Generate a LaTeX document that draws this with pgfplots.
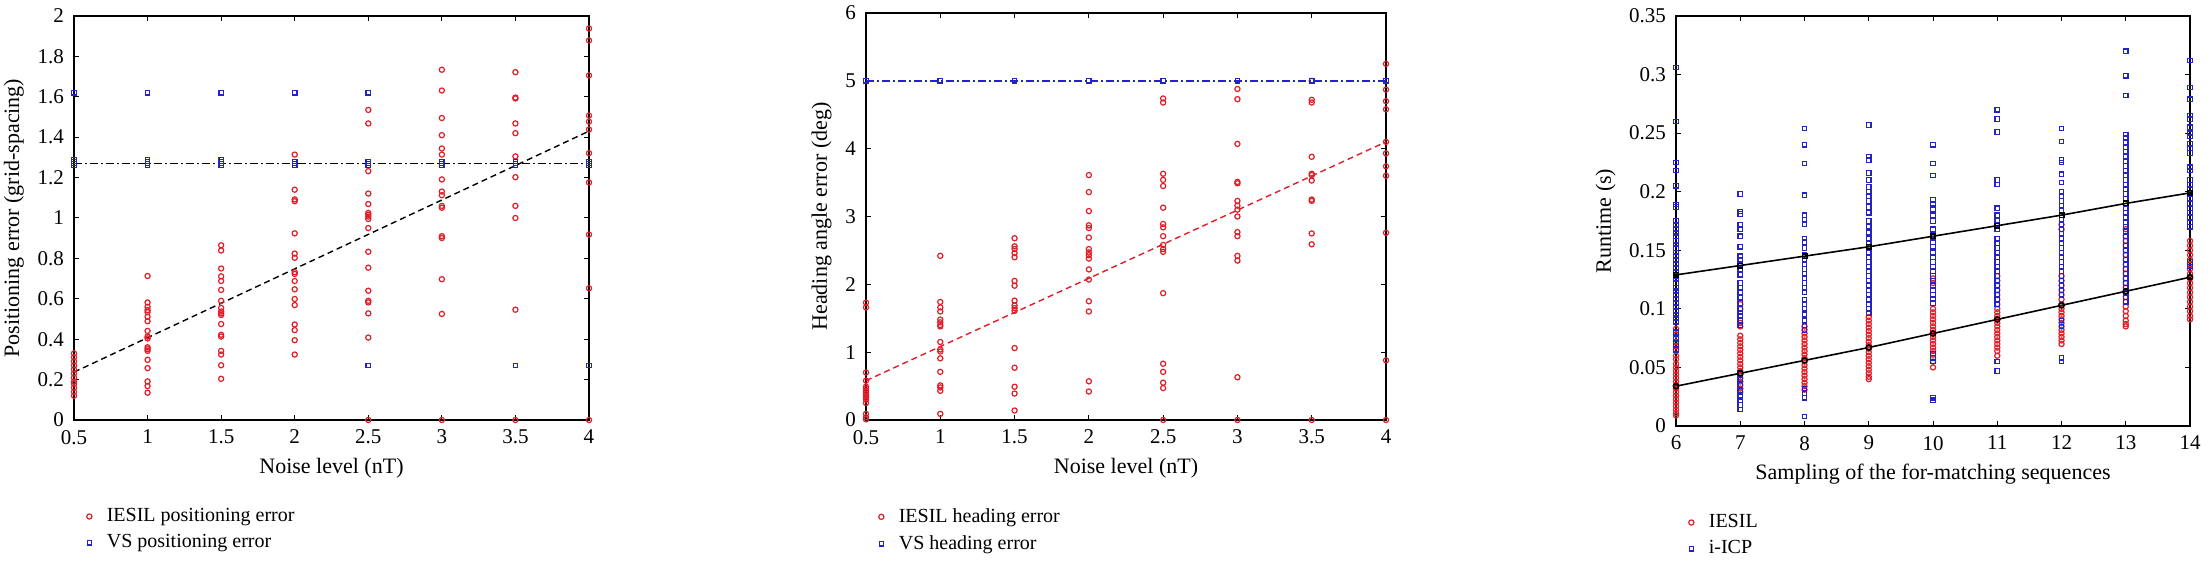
\documentclass[border=0pt]{standalone}
\usepackage{fontspec}
\setmainfont{Liberation Serif}
\usepackage{pgfplots}
\pgfplotsset{compat=1.18}
\definecolor{iesilred}{RGB}{225,30,40}
\definecolor{vsblue}{RGB}{35,35,200}
\pgfplotsset{
  panel/.style={
    scale only axis,
    enlargelimits=false,
    tick align=inside,
    major tick length=2.5pt,
    axis line style={line width=0.6pt},
    every tick/.style={black, line width=0.5pt},
    tick label style={font=\fontsize{10.5}{12}\selectfont},
    xticklabel style={yshift=-1.5pt},
    yticklabel style={xshift=-1.5pt},
    label style={font=\fontsize{11}{13}\selectfont},
    /pgf/number format/assume math mode=true,
    scaled ticks=false,
    legend style={draw=none, fill=none, font=\fontsize{10}{12}\selectfont,
      at={(0,0)}, anchor=north west, yshift=-40pt, xshift=0pt,
      row sep=1pt, cells={anchor=west}},
    legend image code/.code={\path (0cm,0cm) (0.38cm,0cm);
      \draw[mark repeat=2,mark phase=2,##1] plot coordinates {(0cm,0cm) (0.15cm,0cm) (0.38cm,0cm)};},
  },
  iesil/.style={only marks, mark=o, mark size=1.3pt, color=iesilred, mark options={line width=0.6pt}},
  vs/.style={only marks, mark=square, mark size=1.1pt, color=vsblue, mark options={line width=0.6pt}},
}
\begin{document}
\begin{tikzpicture}
\path[use as bounding box] (0,0) rectangle (1105.5pt,281pt);

% ---- panel 1: positioning error
\begin{axis}[panel, at={(37pt,71pt)}, anchor=south west,
  width=257.5pt, height=202pt,
  xmin=0.5, xmax=4, ymin=0, ymax=2,
  xtick={0.5,1,1.5,2,2.5,3,3.5,4},
  ytick={0,0.2,0.4,0.6,0.8,1,1.2,1.4,1.6,1.8,2},
  xlabel={Noise level (nT)}, ylabel={Positioning error (grid-spacing)}]
\addplot[iesil] coordinates {
(0.5,0.12) (0.5,0.14) (0.5,0.16) (0.5,0.18) (0.5,0.19) (0.5,0.21) (0.5,0.23) (0.5,0.25) (0.5,0.27) (0.5,0.29) (0.5,0.31) (0.5,0.33)
(1,0.713) (1,0.582) (1,0.560) (1,0.544) (1,0.534) (1,0.511) (1,0.489) (1,0.441) (1,0.413) (1,0.404) (1,0.360) (1,0.351) (1,0.342) (1,0.298) (1,0.257) (1,0.191) (1,0.168) (1,0.135)
(1.5,0.865) (1.5,0.839) (1.5,0.750) (1.5,0.711) (1.5,0.688) (1.5,0.644) (1.5,0.590) (1.5,0.555) (1.5,0.537) (1.5,0.528) (1.5,0.520) (1.5,0.475) (1.5,0.422) (1.5,0.413) (1.5,0.342) (1.5,0.324) (1.5,0.271) (1.5,0.204)
(2,1.314) (2,1.140) (2,1.092) (2,1.083) (2,0.924) (2,0.824) (2,0.803) (2,0.732) (2,0.723) (2,0.688) (2,0.647) (2,0.599) (2,0.569) (2,0.473) (2,0.445) (2,0.395) (2,0.324)
(2.5,1.535) (2.5,1.468) (2.5,1.232) (2.5,1.121) (2.5,1.069) (2.5,1.025) (2.5,1.016) (2.5,1.007) (2.5,0.995) (2.5,0.950) (2.5,0.833) (2.5,0.754) (2.5,0.640) (2.5,0.590) (2.5,0.582) (2.5,0.528) (2.5,0.408) (2.5,0)
(3,1.734) (3,1.631) (3,1.495) (3,1.410) (3,1.344) (3,1.314) (3,1.191) (3,1.131) (3,1.113) (3,1.060) (3,1.051) (3,0.910) (3,0.901) (3,0.697) (3,0.525) (3,0)
(3.5,1.722) (3.5,1.596) (3.5,1.592) (3.5,1.468) (3.5,1.420) (3.5,1.305) (3.5,1.202) (3.5,1.060) (3.5,1.000) (3.5,0.546) (3.5,0)
(4,1.938) (4,1.879) (4,1.706) (4,1.507) (4,1.477) (4,1.438) (4,1.321) (4,1.176) (4,0.918) (4,0.652) (4,0)
};
\addlegendentry{IESIL positioning error}
\addplot[vs] coordinates {
(0.5,1.62) (0.5,1.26) (0.5,1.27) (0.5,1.28) (0.5,1.29)
(1,1.62) (1,1.26) (1,1.27) (1,1.28) (1,1.29)
(1.5,1.62) (1.5,1.26) (1.5,1.27) (1.5,1.28) (1.5,1.29)
(2,1.62) (2,1.26) (2,1.27) (2,1.28)
(2.5,1.62) (2.5,1.26) (2.5,1.27) (2.5,1.28) (2.5,0.27)
(3,1.26) (3,1.27) (3,1.28)
(3.5,1.26) (3.5,1.27) (3.5,1.28) (3.5,0.27)
(4,1.26) (4,1.27) (4,1.28) (4,0.27)
};
\addlegendentry{VS positioning error}
\addplot[forget plot, black, line width=0.7pt, dash pattern=on 3pt off 2pt] coordinates {(0.5,0.237) (4,1.43)};
\addplot[forget plot, black, line width=0.7pt, dash pattern=on 4pt off 1.5pt on 1pt off 1.5pt] coordinates {(0.5,1.27) (4,1.27)};
\end{axis}

% ---- panel 2: heading angle error
\begin{axis}[panel, at={(433pt,71pt)}, anchor=south west,
  width=260pt, height=203.5pt,
  xmin=0.5, xmax=4, ymin=0, ymax=6,
  xtick={0.5,1,1.5,2,2.5,3,3.5,4},
  ytick={0,1,2,3,4,5,6},
  xlabel={Noise level (nT)}, ylabel={Heading angle error (deg)}]
\addplot[iesil] coordinates {
(0.5,1.73) (0.5,1.66) (0.5,0.70) (0.5,0.58) (0.5,0.49) (0.5,0.46) (0.5,0.43) (0.5,0.41) (0.5,0.38) (0.5,0.35) (0.5,0.33) (0.5,0.30) (0.5,0.25) (0.5,0.09) (0.5,0.04) (0.5,0.01)
(1,2.42) (1,1.74) (1,1.66) (1,1.60) (1,1.48) (1,1.44) (1,1.40) (1,1.38) (1,1.15) (1,1.04) (1,1.01) (1,0.91) (1,0.71) (1,0.51) (1,0.48) (1,0.43) (1,0.09)
(1.5,2.68) (1.5,2.56) (1.5,2.52) (1.5,2.46) (1.5,2.40) (1.5,2.05) (1.5,1.98) (1.5,1.76) (1.5,1.69) (1.5,1.65) (1.5,1.61) (1.5,1.06) (1.5,0.77) (1.5,0.49) (1.5,0.39) (1.5,0.14)
(2,3.61) (2,3.36) (2,3.08) (2,2.87) (2,2.83) (2,2.69) (2,2.52) (2,2.47) (2,2.43) (2,2.38) (2,2.22) (2,2.07) (2,1.75) (2,1.60) (2,0.57) (2,0.42)
(2.5,4.74) (2.5,4.68) (2.5,3.63) (2.5,3.54) (2.5,3.45) (2.5,3.13) (2.5,2.89) (2.5,2.84) (2.5,2.71) (2.5,2.58) (2.5,2.52) (2.5,2.48) (2.5,1.87) (2.5,0.83) (2.5,0.71) (2.5,0.55) (2.5,0.47) (2.5,0)
(3,4.88) (3,4.73) (3,4.07) (3,3.51) (3,3.49) (3,3.23) (3,3.16) (3,3.10) (3,3.00) (3,2.77) (3,2.71) (3,2.42) (3,2.35) (3,0.63) (3,0)
(3.5,5.0) (3.5,4.72) (3.5,4.68) (3.5,3.88) (3.5,3.63) (3.5,3.61) (3.5,3.53) (3.5,3.25) (3.5,3.23) (3.5,2.75) (3.5,2.59) (3.5,0)
(4,5.25) (4,4.87) (4,4.70) (4,4.58) (4,4.10) (4,3.93) (4,3.74) (4,3.60) (4,2.76) (4,0.88) (4,0)
};
\addlegendentry{IESIL heading error}
\addplot[vs] coordinates {(0.5,5) (1,5) (1.5,5) (2,5) (2.5,5) (3,5) (3.5,5) (4,5)};
\addlegendentry{VS heading error}
\addplot[forget plot, iesilred, line width=0.7pt, dash pattern=on 3pt off 2pt] coordinates {(0.5,0.58) (4,4.10)};
\addplot[forget plot, vsblue, line width=0.7pt, dash pattern=on 4pt off 1.5pt on 1pt off 1.5pt] coordinates {(0.5,5) (4,5)};
\end{axis}

% ---- panel 3: runtime
\begin{axis}[panel, at={(838pt,68pt)}, anchor=south west,
  width=257pt, height=205pt,
  xmin=6, xmax=14, ymin=0, ymax=0.35,
  xtick={6,7,8,9,10,11,12,13,14},
  ytick={0,0.05,0.1,0.15,0.2,0.25,0.3,0.35},
  yticklabel style={/pgf/number format/fixed, /pgf/number format/precision=2},
  xlabel={Sampling of the for-matching sequences}, ylabel={Runtime (s)}]
\addplot[iesil] coordinates {
(6,0.083) (6,0.078) (6,0.072) (6,0.068) (6,0.065) (6,0.060) (6,0.057) (6,0.053) (6,0.050) (6,0.047) (6,0.044) (6,0.041) (6,0.038) (6,0.035) (6,0.032) (6,0.029) (6,0.026) (6,0.023) (6,0.020) (6,0.017) (6,0.014) (6,0.011) (6,0.009)
(7,0.104) (7,0.100) (7,0.088) (7,0.085) (7,0.077) (7,0.074) (7,0.071) (7,0.068) (7,0.065) (7,0.062) (7,0.059) (7,0.056) (7,0.053) (7,0.050) (7,0.047) (7,0.044) (7,0.041) (7,0.038) (7,0.035) (7,0.032) (7,0.029)
(8,0.085) (8,0.082) (8,0.079) (8,0.076) (8,0.073) (8,0.070) (8,0.067) (8,0.064) (8,0.061) (8,0.058) (8,0.055) (8,0.052) (8,0.049) (8,0.046) (8,0.043) (8,0.040) (8,0.037) (8,0.034) (8,0.031)
(9,0.093) (9,0.090) (9,0.087) (9,0.084) (9,0.081) (9,0.078) (9,0.075) (9,0.072) (9,0.069) (9,0.066) (9,0.063) (9,0.060) (9,0.057) (9,0.054) (9,0.051) (9,0.048) (9,0.045) (9,0.042) (9,0.040)
(10,0.126) (10,0.122) (10,0.100) (10,0.097) (10,0.094) (10,0.091) (10,0.088) (10,0.085) (10,0.082) (10,0.079) (10,0.076) (10,0.073) (10,0.070) (10,0.067) (10,0.064) (10,0.061) (10,0.058) (10,0.055) (10,0.050)
(11,0.128) (11,0.124) (11,0.120) (11,0.116) (11,0.112) (11,0.108) (11,0.104) (11,0.100) (11,0.097) (11,0.094) (11,0.091) (11,0.088) (11,0.085) (11,0.082) (11,0.079) (11,0.076) (11,0.073) (11,0.070) (11,0.067) (11,0.064) (11,0.060)
(12,0.172) (12,0.168) (12,0.128) (12,0.124) (12,0.120) (12,0.116) (12,0.112) (12,0.108) (12,0.104) (12,0.100) (12,0.097) (12,0.094) (12,0.091) (12,0.088) (12,0.085) (12,0.082) (12,0.079) (12,0.076) (12,0.073) (12,0.070)
(13,0.168) (13,0.162) (13,0.158) (13,0.154) (13,0.150) (13,0.146) (13,0.142) (13,0.138) (13,0.134) (13,0.130) (13,0.126) (13,0.122) (13,0.118) (13,0.114) (13,0.110) (13,0.106) (13,0.102) (13,0.098) (13,0.094) (13,0.090) (13,0.087) (13,0.085)
(14,0.158) (14,0.154) (14,0.150) (14,0.146) (14,0.142) (14,0.138) (14,0.134) (14,0.130) (14,0.126) (14,0.122) (14,0.118) (14,0.114) (14,0.110) (14,0.106) (14,0.102) (14,0.098) (14,0.094) (14,0.091)
};
\addlegendentry{IESIL}
\addplot[vs] coordinates {
(6,0.306) (6,0.260) (6,0.225) (6,0.218) (6,0.205) (6,0.189) (6,0.187) (6,0.175) (6,0.172) (6,0.168) (6,0.165) (6,0.162) (6,0.158) (6,0.155) (6,0.152) (6,0.148) (6,0.145) (6,0.142) (6,0.138) (6,0.135) (6,0.132) (6,0.128) (6,0.125) (6,0.122) (6,0.118) (6,0.115) (6,0.112) (6,0.108) (6,0.105) (6,0.102) (6,0.098) (6,0.095) (6,0.092) (6,0.089) (6,0.080) (6,0.075) (6,0.070) (6,0.065)
(7,0.198) (7,0.183) (7,0.181) (7,0.172) (7,0.168) (7,0.162) (7,0.153) (7,0.145) (7,0.142) (7,0.138) (7,0.134) (7,0.129) (7,0.122) (7,0.118) (7,0.114) (7,0.110) (7,0.105) (7,0.100) (7,0.097) (7,0.094) (7,0.090) (7,0.086) (7,0.045) (7,0.040) (7,0.035) (7,0.030) (7,0.025) (7,0.022) (7,0.018) (7,0.014)
(8,0.254) (8,0.240) (8,0.224) (8,0.197) (8,0.180) (8,0.176) (8,0.172) (8,0.160) (8,0.157) (8,0.152) (8,0.146) (8,0.142) (8,0.138) (8,0.134) (8,0.130) (8,0.126) (8,0.122) (8,0.118) (8,0.114) (8,0.108) (8,0.104) (8,0.100) (8,0.095) (8,0.090) (8,0.086) (8,0.082) (8,0.032) (8,0.028) (8,0.024) (8,0.008)
(9,0.257) (9,0.230) (9,0.227) (9,0.216) (9,0.210) (9,0.204) (9,0.200) (9,0.196) (9,0.192) (9,0.187) (9,0.182) (9,0.175) (9,0.170) (9,0.165) (9,0.160) (9,0.156) (9,0.152) (9,0.148) (9,0.144) (9,0.140) (9,0.136) (9,0.132) (9,0.128) (9,0.124) (9,0.120) (9,0.116) (9,0.112) (9,0.108) (9,0.104) (9,0.100) (9,0.096)
(10,0.240) (10,0.224) (10,0.214) (10,0.193) (10,0.190) (10,0.185) (10,0.180) (10,0.175) (10,0.168) (10,0.163) (10,0.160) (10,0.157) (10,0.153) (10,0.148) (10,0.144) (10,0.140) (10,0.136) (10,0.132) (10,0.128) (10,0.124) (10,0.120) (10,0.116) (10,0.112) (10,0.108) (10,0.105) (10,0.062) (10,0.058) (10,0.055) (10,0.024) (10,0.022)
(11,0.270) (11,0.262) (11,0.251) (11,0.210) (11,0.206) (11,0.186) (11,0.180) (11,0.175) (11,0.172) (11,0.168) (11,0.160) (11,0.156) (11,0.152) (11,0.148) (11,0.144) (11,0.140) (11,0.136) (11,0.132) (11,0.128) (11,0.124) (11,0.120) (11,0.116) (11,0.112) (11,0.108) (11,0.104) (11,0.055) (11,0.047)
(12,0.254) (12,0.243) (12,0.227) (12,0.225) (12,0.215) (12,0.208) (12,0.200) (12,0.196) (12,0.192) (12,0.188) (12,0.184) (12,0.180) (12,0.176) (12,0.172) (12,0.168) (12,0.164) (12,0.160) (12,0.156) (12,0.152) (12,0.148) (12,0.144) (12,0.140) (12,0.136) (12,0.132) (12,0.128) (12,0.124) (12,0.120) (12,0.116) (12,0.112) (12,0.090) (12,0.085) (12,0.058) (12,0.055)
(13,0.320) (13,0.299) (13,0.282) (13,0.249) (13,0.246) (13,0.242) (13,0.238) (13,0.234) (13,0.230) (13,0.226) (13,0.222) (13,0.218) (13,0.214) (13,0.210) (13,0.206) (13,0.202) (13,0.198) (13,0.194) (13,0.190) (13,0.186) (13,0.182) (13,0.178) (13,0.174) (13,0.170) (13,0.166) (13,0.162) (13,0.158) (13,0.154) (13,0.150) (13,0.146) (13,0.142) (13,0.138) (13,0.134) (13,0.130) (13,0.126) (13,0.122) (13,0.118) (13,0.114) (13,0.110) (13,0.106)
(14,0.312) (14,0.289) (14,0.279) (14,0.265) (14,0.262) (14,0.255) (14,0.250) (14,0.247) (14,0.241) (14,0.237) (14,0.233) (14,0.221) (14,0.218) (14,0.210) (14,0.206) (14,0.202) (14,0.198) (14,0.194) (14,0.190) (14,0.186) (14,0.182) (14,0.178) (14,0.174) (14,0.170) (14,0.140) (14,0.136)
};
\addlegendentry{i-ICP}
\addplot[forget plot, black, line width=0.8pt, mark=square, mark size=1.1pt] coordinates {
(6,0.129) (7,0.137) (8,0.145) (9,0.153) (10,0.162) (11,0.171) (12,0.180) (13,0.190) (14,0.199)};
\addplot[forget plot, black, line width=0.8pt, mark=o, mark size=1.3pt] coordinates {
(6,0.034) (7,0.045) (8,0.056) (9,0.067) (10,0.079) (11,0.091) (12,0.103) (13,0.115) (14,0.127)};
\end{axis}
\end{tikzpicture}
\end{document}
